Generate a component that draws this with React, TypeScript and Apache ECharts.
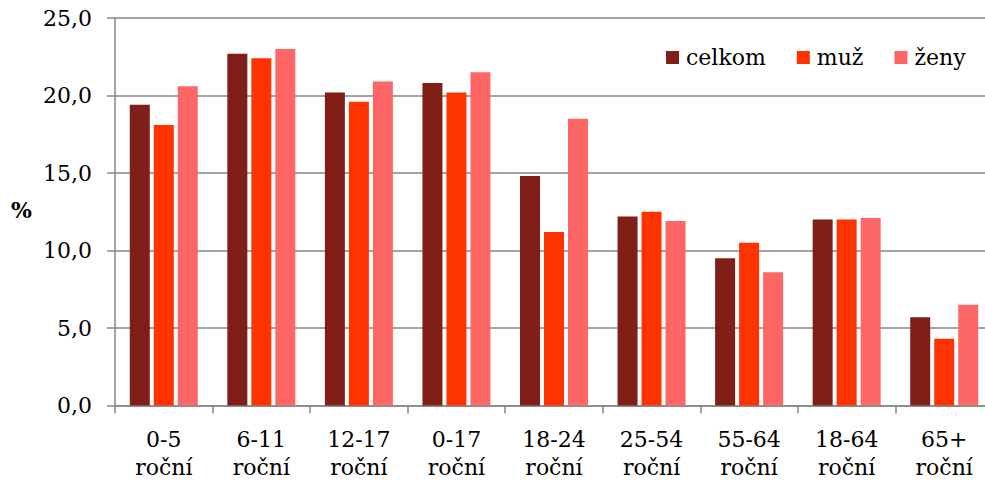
import React, { useEffect, useRef } from "react";
import * as echarts from "echarts";

const categories = ["0-5\nroční", "6-11\nroční", "12-17\nroční", "0-17\nroční", "18-24\nroční", "25-54\nroční", "55-64\nroční", "18-64\nroční", "65+\nroční"];
const celkom = [19.4, 22.7, 20.2, 20.8, 14.8, 12.2, 9.5, 12.0, 5.7];
const muz = [18.1, 22.4, 19.6, 20.2, 11.2, 12.5, 10.5, 12.0, 4.3];
const zeny = [20.6, 23.0, 20.9, 21.5, 18.5, 11.9, 8.6, 12.1, 6.5];
const seriesNames = ["celkom", "muž", "ženy"];
const colors = ["#7F1F17", "#FF3300", "#FF6666"];

const FONT = "DejaVu Serif";
const FS = 22;

export default function App() {
  const ref = useRef<HTMLDivElement>(null);
  useEffect(() => {
    if (!ref.current) return;
    const chart = echarts.init(ref.current, null, { renderer: "svg" });
    const data = [celkom, muz, zeny];
    chart.setOption({
      animation: false,
      textStyle: { fontFamily: FONT },
      grid: { left: 115, top: 18, right: 0, bottom: 74.5 },
      legend: {
        left: 661,
        top: 41.5,
        itemWidth: 13,
        itemHeight: 13,
        itemGap: 31,
        icon: "rect",
        data: seriesNames,
        textStyle: { fontFamily: FONT, fontSize: FS, color: "#000", padding: [0, 0, 0, 2] },
      },
      xAxis: {
        type: "category",
        data: categories,
        boundaryGap: true,
        axisLine: { lineStyle: { color: "#868686", width: 1.5 } },
        axisTick: { show: true, length: 8, lineStyle: { color: "#868686", width: 1.5 } },
        axisLabel: { fontFamily: FONT, fontSize: FS, color: "#000", lineHeight: 28, margin: 19.5, interval: 0 },
        splitLine: { show: false },
      },
      yAxis: {
        type: "value",
        min: 0,
        max: 25,
        interval: 5,
        axisLine: { show: true, lineStyle: { color: "#868686", width: 1.5 } },
        axisTick: { show: true, length: 8, lineStyle: { color: "#868686", width: 1.5 } },
        axisLabel: {
          fontFamily: FONT,
          fontSize: FS,
          color: "#000",
          margin: 23,
          formatter: (v: number) => v.toFixed(1).replace(".", ","),
        },
        splitLine: { show: true, lineStyle: { color: "#868686", width: 1.5 } },
      },
      graphic: [
        {
          type: "text",
          left: 11,
          top: 199,
          style: { text: "%", fontFamily: FONT, fontWeight: "bold", fontSize: FS, fill: "#000" },
        },
      ],
      series: seriesNames.map((name, i) => ({
        name,
        type: "bar",
        data: data[i],
        barWidth: 20,
        barGap: "20%",
        itemStyle: { color: colors[i] },
      })),
    });
    return () => chart.dispose();
  }, []);
  return (
    <div style={{ position: "absolute", left: 0, top: 0, width: 985, height: 481, overflow: "hidden" }}>
      <div ref={ref} style={{ width: 993, height: 481 }} />
    </div>
  );
}
